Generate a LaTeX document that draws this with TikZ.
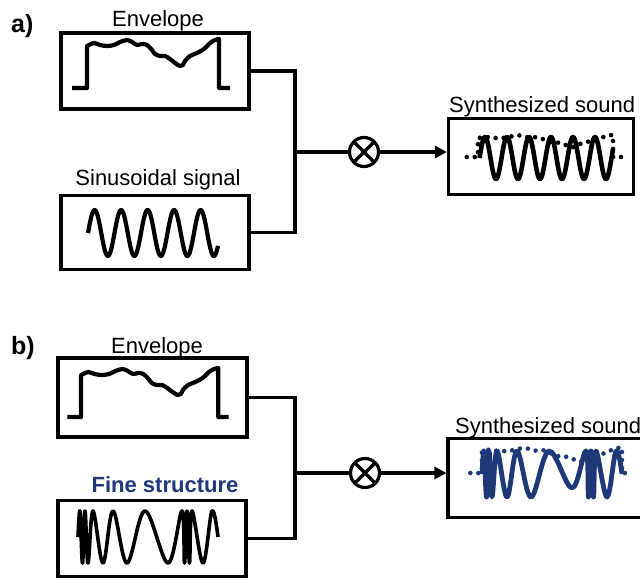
\documentclass[tikz,border=0pt]{standalone}
\usepackage{fontspec}
\setmainfont{Liberation Sans}
\usetikzlibrary{arrows.meta}
\definecolor{fsblue}{RGB}{31,56,120}
\tikzset{
  box/.style={draw, line width=3.2pt, inner sep=0pt},
  conn/.style={line width=3.2pt},
  arr/.style={line width=3.2pt, -{Triangle[length=12pt,width=12pt]}},
  sig/.style={line width=4.2pt, line join=round, line cap=butt},
  dotenv/.style={line width=4.6pt, line cap=round, dash pattern=on 0pt off 8pt},
  lab/.style={font=\fontsize{22}{26}\selectfont, inner sep=0pt},
  panel/.style={font=\fontsize{25}{28}\selectfont\bfseries, inner sep=0pt},
  mult/.style={circle, draw, line width=3.2pt, minimum size=29pt, inner sep=0pt,
    path picture={\draw[line width=3.2pt] (path picture bounding box.south west) -- (path picture bounding box.north east)
      (path picture bounding box.north west) -- (path picture bounding box.south east);}},
  envpath/.style={insert path={-- plot[smooth,tension=0.55] coordinates {(0,-42)(2,-43)(7,-45)(13,-43)(20,-42)(27,-43)(33,-46)(40,-48)(45,-46)(50,-43)(55,-44)(60,-43)(65,-38)(68,-34)(73,-32)(78,-32)(83,-29)(88,-25)(93,-22)(96,-23)(98,-27)(103,-32)(110,-35)(117,-39)(123,-45)(128,-48)(132,-49)}}}
}
\begin{document}
\begin{tikzpicture}[x=1pt,y=-1pt]
\clip (0,0) rectangle (640,581);
\fill[white] (0,0) rectangle (640,581);

% ---------------- panel a ----------------
\node[panel, anchor=base west] (tA) at (11,32) {a)};
\node[lab, anchor=base] (tEnvA) at (158,26) {Envelope};
\node[box, minimum width=188pt, minimum height=76pt] (envA) at (155,71) {};
\begin{scope}[shift={(87,88)}]
  \draw[sig] (-15,0) -- (0,0) [envpath] -- (132,0) -- (143,0);
\end{scope}

\node[lab, anchor=base] (tSinA) at (158,185) {Sinusoidal signal};
\node[box, minimum width=188pt, minimum height=74pt] (sinA) at (155,232.5) {};
\draw[sig] plot[domain=88:218, samples=220, smooth] (\x, {233 - 23*sin((\x-88)*13.585)});

\coordinate (jA) at (295,152);
\draw[conn] (envA.east) -| (jA) |- (sinA.east);
\node[mult] (mulA) at (364,152) {};
\draw[conn] (jA) -- (mulA.west);
\node[box, minimum width=185pt, minimum height=76pt] (synA) at (541,156.5) {};
\draw[arr] (mulA.east) -- (mulA.east -| synA.west);
\node[lab, anchor=base west] (tSynA) at (449,112) {Synthesized sound};
\draw[sig, line width=4.6pt] plot[domain=479.5:613, samples=220, smooth] (\x, {158 - 21*sin((\x-479.5)*16.3636)});
\begin{scope}[shift={(478,157)}, xscale=1.023, yscale=0.45]
  \draw[dotenv] (-11,0) -- (0,0) [envpath] -- (132,0) -- (144,0);
\end{scope}

% ---------------- panel b ----------------
\node[panel, anchor=base west] (tB) at (11,354) {b)};
\node[lab, anchor=base] (tEnvB) at (157,353) {Envelope};
\node[box, minimum width=189pt, minimum height=79pt] (envB) at (152.5,397.5) {};
\begin{scope}[shift={(81,417)}, xscale=1.04]
  \draw[sig] (-13,0) -- (0,0) [envpath] -- (132,0) -- (142,0);
\end{scope}

\node[lab, anchor=base, font=\fontsize{22}{26}\selectfont\bfseries, text=fsblue] (tFineB) at (165,492) {Fine structure};
\node[box, minimum width=188pt, minimum height=76pt] (fineB) at (152,538.5) {};
\draw[sig, line width=3.6pt] plot[smooth, tension=0.6] coordinates {(78,537)(80,511)(82.5,563)(85,511)(88,563)(93,511)(103,563)(113,511)(127,563)(145,511)(168,563)(182,511)(184.5,563)(187,511)(189.5,563)(192,511)(203,563)(212,511)(218,537)};

\coordinate (jB) at (295,473);
\draw[conn] (envB.east) -| (jB) |- (fineB.east);
\node[mult] (mulB) at (365,473) {};
\draw[conn] (jB) -- (mulB.west);
\node[box, minimum width=204pt, minimum height=79pt] (synB) at (550,478) {};
\draw[arr] (mulB.east) -- (mulB.east -| synB.west);
\node[lab, anchor=base west] (tSynB) at (455,433) {Synthesized sound};
\draw[sig, fsblue, line width=4.8pt] plot[smooth, tension=0.6] coordinates {(482,474)(484,451)(486.5,497)(489,451)(492,497)(497,451)(507,497)(517,451)(531,497)(549,451)(572,488)(586,451)(588.5,497)(591,451)(593.5,497)(596,451)(607,497)(616,451)(622,474)};
\begin{scope}[shift={(482,473)}, xscale=1.06, yscale=0.52]
  \draw[dotenv, fsblue] (-11,0) -- (0,0) [envpath] -- (132,0) -- (140,0);
\end{scope}
\end{tikzpicture}
\end{document}
